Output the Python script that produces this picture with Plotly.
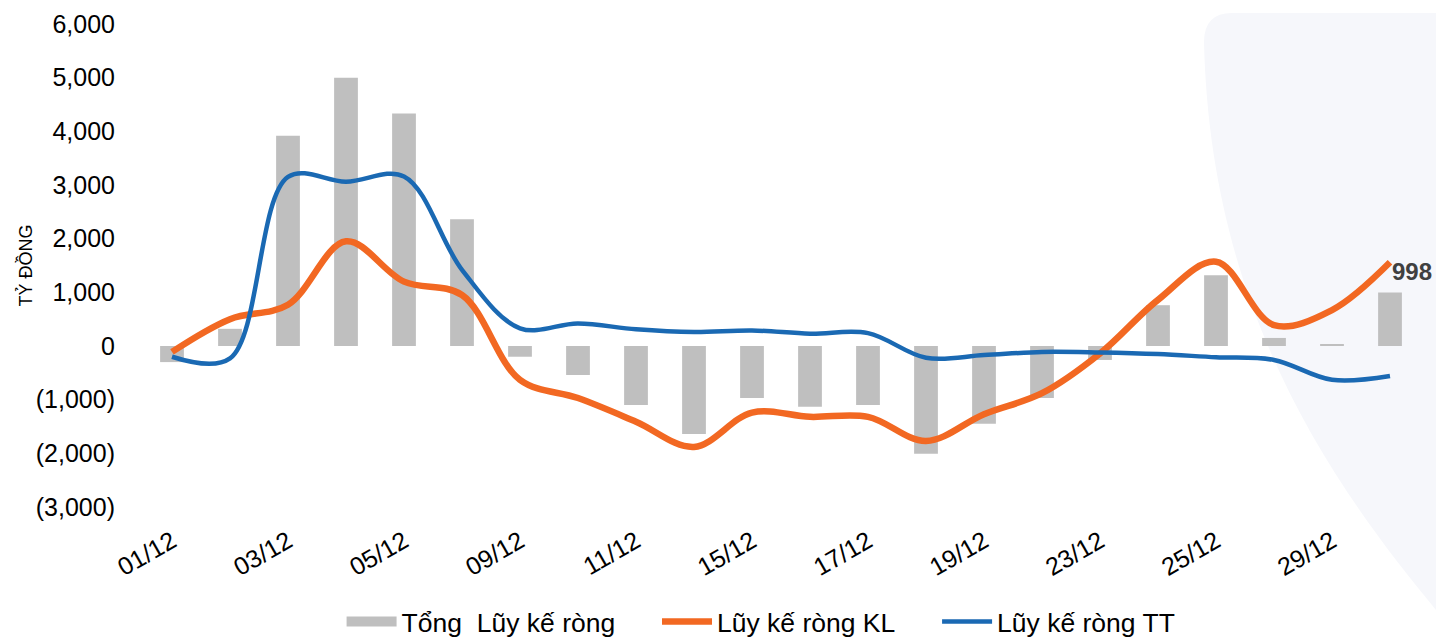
import plotly.graph_objects as go

categories = ["01/12", "02/12", "03/12", "04/12", "05/12", "08/12", "09/12", "10/12",
              "11/12", "12/12", "15/12", "16/12", "17/12", "18/12", "19/12", "22/12",
              "23/12", "24/12", "25/12", "26/12", "29/12", "30/12"]
tong_luy_ke = [-300, 320, 3920, 5000, 4330, 2360, -200, -540, -1100, -1640, -970, -1130,
               -1100, -2010, -1450, -970, -260, 760, 1320, 150, 30, 998]
luy_ke_kl = [-110, 500, 770, 1950, 1200, 950, -630, -970, -1410, -1880, -1240, -1320,
             -1320, -1770, -1270, -880, -140, 860, 1570, 390, 670, 1560]
luy_ke_tt = [-200, -230, 3150, 3060, 3160, 1420, 330, 420, 310, 260, 290, 230,
             240, -220, -170, -110, -120, -150, -210, -260, -630, -560]
y_tick_values = [-3000, -2000, -1000, 0, 1000, 2000, 3000, 4000, 5000, 6000]
x_tick_labels = ["01/12", "03/12", "05/12", "09/12", "11/12", "15/12", "17/12",
                 "19/12", "23/12", "25/12", "29/12"]
series_names = ["Tổng  Lũy kế ròng", "Lũy kế ròng KL", "Lũy kế ròng TT"]

def fmt(v):
    if v < 0:
        return "({:,})".format(-v)
    return "{:,}".format(v)

FONT = "Liberation Sans, Arial, sans-serif"
GRAY = "#BFBFBF"
ORANGE = "#F26822"
BLUE = "#1A69B3"
PAD = "\u00a0" * 5

W, H = 1436, 641
L, R, T, B = 143, 17, 24, 134
PW, PH = W - L - R, H - T - B

def px(x):
    return (x - L) / PW

def py(y):
    return (H - B - y) / PH

fig = go.Figure()
fig.add_trace(go.Bar(x=categories, y=tong_luy_ke, marker=dict(color=GRAY, line=dict(width=0)),
                     name=series_names[0], showlegend=False, legendgroup="tong"))
fig.add_trace(go.Scatter(x=[categories[0]], y=[None], mode="lines", line=dict(color=GRAY, width=14),
                         name=series_names[0] + PAD, legendgroup="tong"))
fig.add_trace(go.Scatter(x=categories, y=luy_ke_kl, mode="lines",
                         line=dict(color=ORANGE, width=6.5, shape="spline", smoothing=1),
                         name=series_names[1] + PAD))
fig.add_trace(go.Scatter(x=categories, y=luy_ke_tt, mode="lines",
                         line=dict(color=BLUE, width=4.5, shape="spline", smoothing=1),
                         name=series_names[2]))

path = (f"M {px(1436)},{py(13)} L {px(1232)},{py(13)} "
        f"Q {px(1204)},{py(13)} {px(1204)},{py(42)} "
        f"C {px(1210)},{py(300)} {px(1320)},{py(470)} {px(1436)},{py(610)} Z")
fig.add_shape(type="path", path=path, xref="paper", yref="paper",
              fillcolor="#F6F7FB", line=dict(width=0), layer="below")

fig.add_annotation(x=categories[-1], y=tong_luy_ke[-1], text="<b>998</b>", showarrow=False,
                   xanchor="left", yanchor="bottom", xshift=0, yshift=5,
                   font=dict(family=FONT, size=24, color="#404040"))
fig.add_annotation(x=px(25), y=0.5, xref="paper", yref="paper", text="TỶ ĐỒNG",
                   textangle=-90, showarrow=False, xanchor="center", yanchor="middle",
                   font=dict(family=FONT, size=18, color="#000000"))

fig.update_layout(
    width=W, height=H,
    margin=dict(l=L, r=R, t=T, b=B, pad=0, autoexpand=False),
    paper_bgcolor="white", plot_bgcolor="rgba(0,0,0,0)",
    bargap=0.59,
    font=dict(family=FONT, size=25, color="#000000"),
    showlegend=True,
    legend=dict(orientation="h", xref="container", yref="container", x=0.53, y=0.03,
                xanchor="center", yanchor="middle", font=dict(family=FONT, size=26.5),
                bgcolor="rgba(0,0,0,0)", traceorder="normal", itemwidth=50),
    xaxis=dict(type="category", categoryorder="array", categoryarray=categories,
               range=[-0.5, len(categories) - 0.5],
               tickmode="array", tickvals=x_tick_labels, ticktext=x_tick_labels,
               tickangle=-30, showgrid=False, zeroline=False, showline=False,
               ticks="outside", ticklen=9, tickcolor="rgba(0,0,0,0)", automargin=False,
               tickfont=dict(family=FONT, size=25, color="#000000")),
    yaxis=dict(range=[-3000, 6000], tickmode="array", tickvals=y_tick_values,
               ticktext=[fmt(v) for v in y_tick_values], showgrid=False, zeroline=False,
               showline=False, ticks="outside", ticklen=22, tickcolor="rgba(0,0,0,0)",
               automargin=False, tickfont=dict(family=FONT, size=25, color="#000000")),
)

fig.write_html("out.html")
